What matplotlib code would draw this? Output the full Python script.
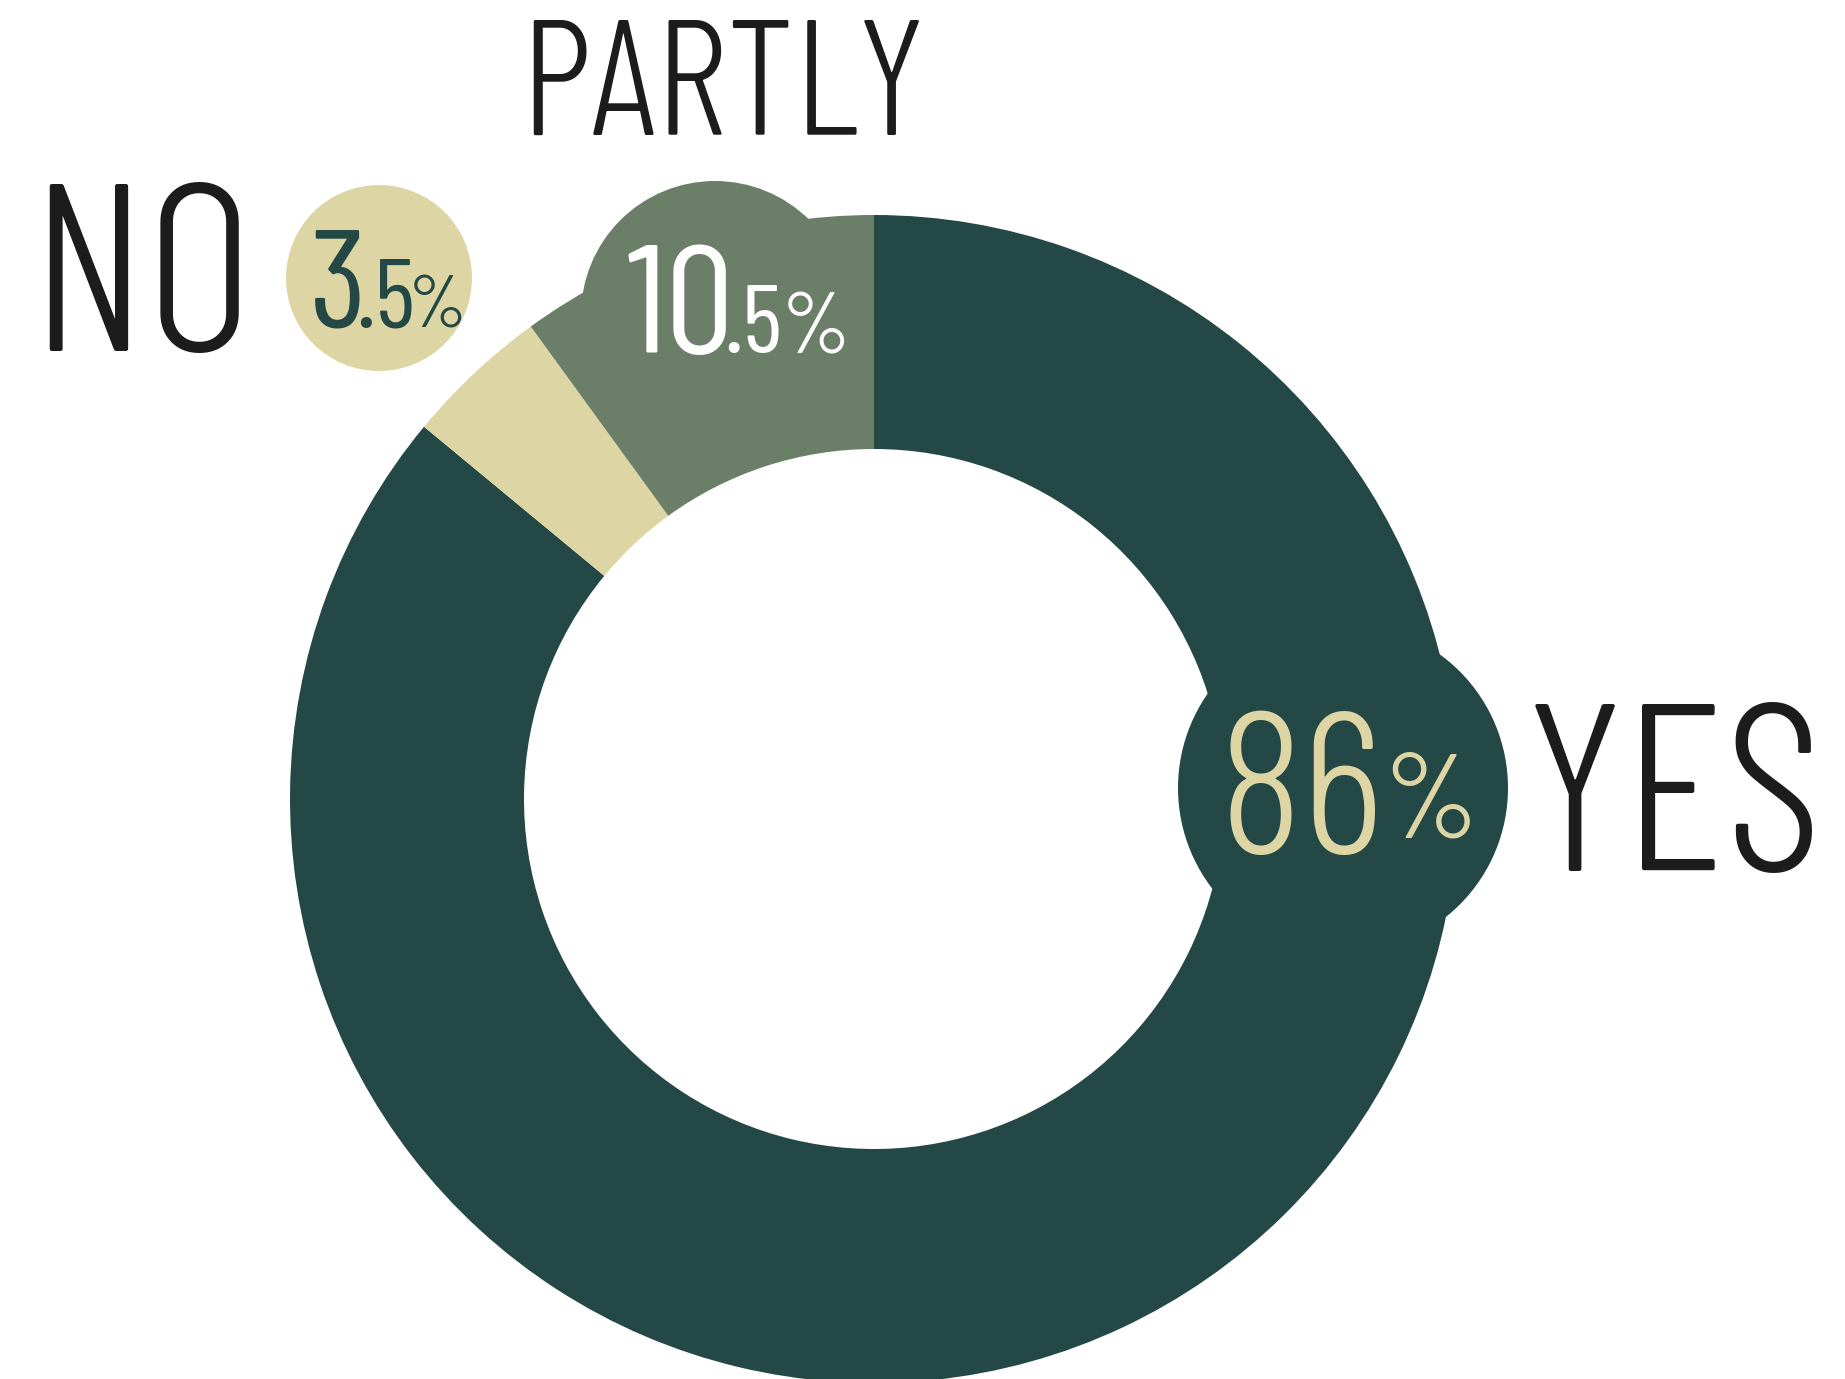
import matplotlib
matplotlib.use("Agg")
import matplotlib.pyplot as plt
from matplotlib.patches import Circle

# data
categories = ["YES", "NO", "PARTLY"]
shares = [86, 4, 10]
big_parts = ["86", "3", "10"]     # printed labels: 86%, 3.5%, 10.5%
small_parts = ["", ".5", ".5"]
colors = ["#234845", "#ddd6a4", "#6b7e68"]
value_colors = ["#ddd6a4", "#234845", "#ffffff"]

W, H = 1845, 1379
FONT = ["Barlow Condensed", "DejaVu Sans"]
LABEL_COLOR = "#1c1c1c"


def y(px):
    # picture pixels (top-left origin) -> axes data
    return H - px


fig = plt.figure(figsize=(W / 100, H / 100), dpi=100)
ax = fig.add_axes([0, 0, 1, 1])

cx, cy = 874, 799
r_out, r_in = 584, 350
ax.pie(shares, colors=colors, radius=r_out, center=(cx, y(cy)),
       startangle=90, counterclock=False,
       wedgeprops=dict(width=r_out - r_in, linewidth=0))

# round badges that bulge out of the ring
badges = {
    "YES": (1343, 788, 165),
    "NO": (379, 278, 93),
    "PARTLY": (715, 315, 134),
}
for cat, col in zip(categories, colors):
    bx, by, br = badges[cat]
    ax.add_patch(Circle((bx, y(by)), br, color=col, lw=0, zorder=3))

# category names
ax.text(30, y(351), "NO", fontsize=171, family=FONT, weight=300,
        color=LABEL_COLOR, ha="left", va="baseline", zorder=5)
ax.text(520, y(135), "PARTLY", fontsize=118, family=FONT, weight=300,
        color=LABEL_COLOR, ha="left", va="baseline", zorder=5)
ax.text(1526, y(871), "YES", fontsize=172, family=FONT, weight=300,
        color=LABEL_COLOR, ha="left", va="baseline", zorder=5)

# percentages: big digits, smaller decimals, small % sign
pct_layout = {
    # big x, baseline, size, weight | small x, size | % x, baseline, size
    "YES": (1219, 853, 145, 300, None, None, 1383, 837, 87),
    "NO": (310, 327, 100, 400, 356, 71, 409, 327, 53),
    "PARTLY": (627, 353, 111, 400, 724, 70, 782, 353, 63),
}
for cat, big, small, tc in zip(categories, big_parts, small_parts, value_colors):
    bx, base, bs, bw, sx, ss, px, pb, ps = pct_layout[cat]
    ax.text(bx, y(base), big, fontsize=bs, family=FONT, weight=bw,
            color=tc, ha="left", va="baseline", zorder=6)
    if small:
        ax.text(sx, y(base), small, fontsize=ss, family=FONT, weight=400,
                color=tc, ha="left", va="baseline", zorder=6)
    ax.text(px, y(pb), "%", fontsize=ps, family=FONT, weight=400,
            color=tc, ha="left", va="baseline", zorder=6)

ax.set_xlim(0, W)
ax.set_ylim(0, H)
ax.set_aspect("equal")
ax.axis("off")

fig.savefig("out.png", dpi=100)
